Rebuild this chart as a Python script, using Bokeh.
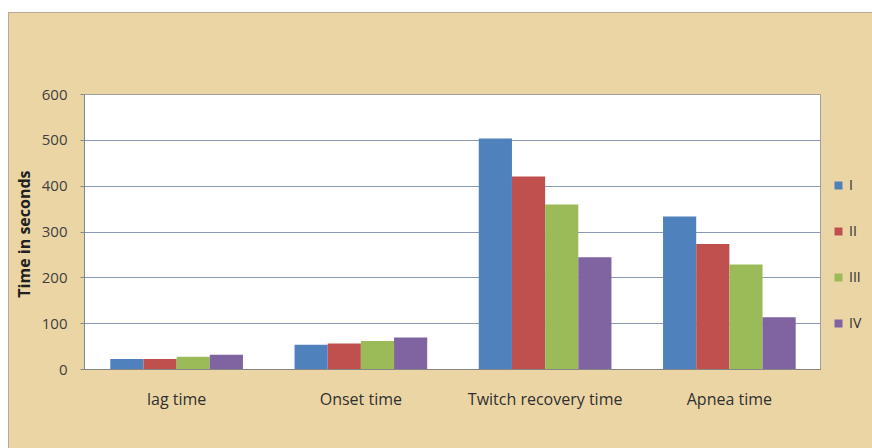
from bokeh.plotting import figure
from bokeh.models import ColumnDataSource, FactorRange, Legend, LegendItem
from bokeh.layouts import row
from bokeh.transform import dodge
from bokeh.embed import file_html
from bokeh.resources import INLINE

categories = ["lag time", "Onset time", "Twitch recovery time", "Apnea time"]
series_names = ["I", "II", "III", "IV"]
s_I = [23, 54, 504, 334]
s_II = [23, 57, 421, 274]
s_III = [28, 62, 360, 229]
s_IV = [32, 70, 245, 114]
colors = ["#4F81BD", "#C0504D", "#9BBB59", "#8064A2"]
y_ticks = [0, 100, 200, 300, 400, 500, 600]

BG = "#ebd5a4"
BORDER = "1px solid #b5ab94"
FONT = "Open Sans"

src = ColumnDataSource(dict(cat=categories, I=s_I, II=s_II, III=s_III, IV=s_IV))

p = figure(x_range=FactorRange(*categories, range_padding=0), y_range=(0, 600),
           width=812, height=436, output_backend="svg", toolbar_location=None,
           min_border_left=75, min_border_right=0, min_border_top=81, min_border_bottom=80)
p.border_fill_color = BG
p.background_fill_color = "white"
p.outline_line_color = "#a0a0a0"

bw = 0.18
offs = [-0.27, -0.09, 0.09, 0.27]
for name, c, o in zip(series_names, colors, offs):
    p.vbar(x=dodge("cat", o, range=p.x_range), top=name, width=bw, source=src,
           fill_color=c, line_color=None)

p.yaxis.ticker = y_ticks
p.yaxis.axis_label = "Time  in seconds"
p.yaxis.axis_label_text_font = FONT
p.yaxis.axis_label_text_font_style = "bold"
p.yaxis.axis_label_text_font_size = "16px"
p.yaxis.axis_label_text_color = "#202020"
p.yaxis.axis_label_standoff = 4
p.yaxis.major_label_text_font = FONT
p.yaxis.major_label_text_font_size = "15px"
p.yaxis.major_label_text_color = "#404040"
p.yaxis.major_label_standoff = 13
p.yaxis.minor_tick_line_color = None
p.yaxis.major_tick_out = 4
p.yaxis.major_tick_in = 0
p.yaxis.axis_line_color = "#868686"
p.yaxis.major_tick_line_color = "#868686"

p.xaxis.major_label_text_font = FONT
p.xaxis.major_label_text_font_size = "16px"
p.xaxis.major_label_text_color = "#303030"
p.xaxis.major_label_standoff = 12
p.xaxis.major_tick_line_color = None
p.xaxis.axis_line_color = "#868686"

p.xgrid.grid_line_color = None
p.ygrid.grid_line_color = "#8a9ab5"
p.ygrid.grid_line_width = 1

# legend panel (a narrow figure to the right of the plot)
pl = figure(width=52, height=436, x_range=(0, 1), y_range=(0, 1),
            x_axis_type=None, y_axis_type=None, output_backend="svg", toolbar_location=None,
            min_border_left=0, min_border_right=0, min_border_top=0, min_border_bottom=0)
pl.border_fill_color = BG
pl.background_fill_color = BG
pl.outline_line_color = None
pl.grid.grid_line_color = None
items = []
for name, c in zip(series_names, colors):
    # zero-height proxy bar: only used to give the legend its swatch
    r = pl.vbar(x=[0.5], top=[0], width=0.1, fill_color=c, line_color=None)
    items.append(LegendItem(label=name, renderers=[r]))

leg = Legend(items=items, location=(12, 37), orientation="vertical",
             glyph_width=10, glyph_height=10, label_height=12, spacing=27,
             label_text_font=FONT, label_text_font_size="14px", label_text_color="#303030",
             label_standoff=6, padding=0, margin=0,
             background_fill_alpha=0, border_line_color=None)
pl.add_layout(leg, "center")

layout = row(p, pl, spacing=0)
layout.margin = (12, 0, 0, 8)
layout.styles = {"border-left": BORDER, "border-top": BORDER, "background-color": BG}
open("out.html", "w").write(file_html(layout, INLINE))
